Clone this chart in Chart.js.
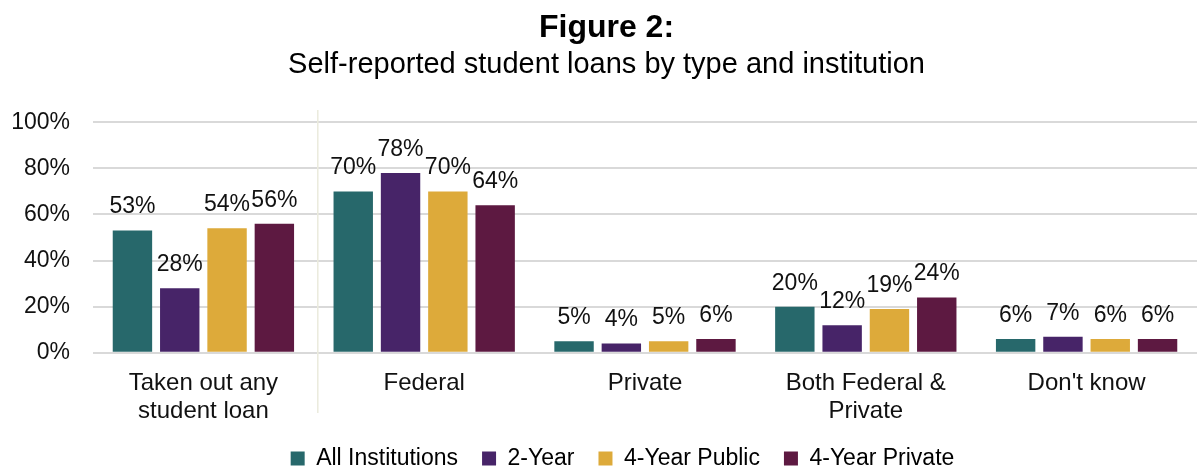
<!DOCTYPE html>
<html>
<head>
<meta charset="utf-8">
<script src="https://cdn.jsdelivr.net/npm/chart.js@4/dist/chart.umd.min.js"></script>
<style>
  html, body { margin: 0; padding: 0; background: #fff; }
  #wrap { width: 1197px; height: 468px; }
</style>
</head>
<body>
<div id="wrap"><canvas id="loans"></canvas></div>
<script>
var categories = [["Taken out any", "student loan"], "Federal", "Private", ["Both Federal &", "Private"], "Don't know"];
var seriesNames = ["All Institutions", "2-Year", "4-Year Public", "4-Year Private"];
var allInst = [53, 70, 5, 20, 6];
var twoYear = [28, 78, 4, 12, 7];
var fourPublic = [54, 70, 5, 19, 6];
var fourPrivate = [56, 64, 6, 24, 6];
var yTicks = [0, 20, 40, 60, 80, 100];
var colors = ["#27686B", "#472468", "#DDAA3A", "#5D1941"];

var fontFam = "'Liberation Sans', Arial, sans-serif";

// labels above bars
var barLabels = {
  id: "barLabels",
  afterDatasetsDraw: function(chart){
    var ctx = chart.ctx;
    ctx.save();
    ctx.font = "23px " + fontFam;
    ctx.fillStyle = "#111";
    ctx.textAlign = "center";
    ctx.textBaseline = "bottom";
    chart.data.datasets.forEach(function(ds, i){
      chart.getDatasetMeta(i).data.forEach(function(bar, j){
        ctx.fillText(ds.data[j] + "%", bar.x, bar.y - 12);
      });
    });
    ctx.restore();
  }
};

// thin divider after the first group, legend nudged right like the original
var divider = {
  id: "divider",
  afterLayout: function(chart){
    chart.legend.left += 16;
    chart.legend.right += 16;
  },
  afterDraw: function(chart){
    var x = chart.scales.x;
    var pos = (x.getPixelForValue(0) + x.getPixelForValue(1)) / 2 + 4;
    var ctx = chart.ctx;
    ctx.save();
    ctx.strokeStyle = "#EBEBDD";
    ctx.lineWidth = 1.5;
    ctx.beginPath();
    ctx.moveTo(pos, 110);
    ctx.lineTo(pos, 413);
    ctx.stroke();
    ctx.restore();
  }
};

var allData = [allInst, twoYear, fourPublic, fourPrivate];

new Chart("loans", {
  type: "bar",
  data: {
    labels: categories,
    datasets: seriesNames.map(function(name, i){
      return {
        label: name,
        data: allData[i],
        backgroundColor: colors[i],
        categoryPercentage: 0.857,
        barPercentage: 0.833
      };
    })
  },
  options: {
    responsive: true,
    maintainAspectRatio: false,
    animation: false,
    layout: { padding: { left: 0, right: -16, top: 0, bottom: -12 } },
    plugins: {
      title: {
        display: true,
        text: "Figure 2:",
        color: "#000",
        font: { family: fontFam, size: 32, weight: "bold" },
        padding: { top: 9, bottom: 0 }
      },
      subtitle: {
        display: true,
        text: "Self-reported student loans by type and institution",
        color: "#000",
        font: { family: fontFam, size: 29 },
        padding: { bottom: 40 }
      },
      legend: {
        position: "bottom",
        labels: {
          boxWidth: 14,
          boxHeight: 14,
          padding: 24,
          color: "#000",
          font: { family: fontFam, size: 23 }
        }
      },
      tooltip: { enabled: false }
    },
    scales: {
      y: {
        min: 0,
        max: 100,
        afterBuildTicks: function(axis){
          axis.ticks = yTicks.map(function(v){ return { value: v }; });
        },
        afterFit: function(axis){ axis.width = 93; },
        ticks: {
          color: "#111",
          padding: 23,
          font: { family: fontFam, size: 23 },
          callback: function(v){ return v + "%"; }
        },
        grid: { color: "#D9D9D9", lineWidth: 2, drawTicks: false },
        border: { display: false }
      },
      x: {
        afterFit: function(axis){ axis.height -= 10; },
        grid: { display: false },
        border: { display: false },
        ticks: {
          color: "#111",
          padding: 8,
          font: { family: fontFam, size: 24, lineHeight: 1.17 },
          maxRotation: 0
        }
      }
    }
  },
  plugins: [barLabels, divider]
});
</script>
</body>
</html>
